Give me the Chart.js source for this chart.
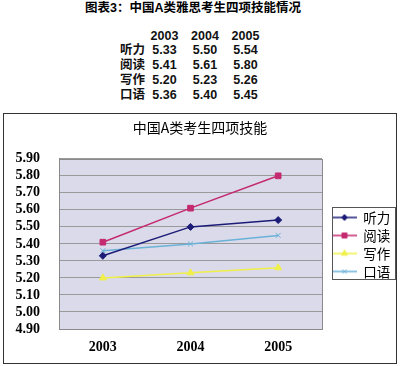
<!DOCTYPE html>
<html>
<head>
<meta charset="utf-8">
<script src="https://cdn.jsdelivr.net/npm/chart.js@4/dist/chart.umd.min.js"></script>
<style>
  body{margin:0;background:#fff;width:400px;height:366px;position:relative;overflow:hidden;}
  #title{position:absolute;left:0;top:1px;width:386px;text-align:center;font:bold 12.5px "Liberation Sans","Noto Sans CJK SC";color:#000;line-height:15px;}
  .cell{position:absolute;font:bold 12.5px "Liberation Sans","Noto Sans CJK SC";color:#111;line-height:15px;white-space:nowrap;}
  #box{position:absolute;left:3px;top:113px;width:392px;height:249px;border:1px solid #333;background:#fff;}
  #wrap{position:relative;width:392px;height:249px;}
</style>
</head>
<body>
<div id="title">图表3：中国A类雅思考生四项技能情况</div>
<div id="tbl"></div>
<div id="box"><div id="wrap"><canvas id="chart"></canvas></div></div>
<script>
// data
const years = ['2003','2004','2005'];
const skills = ['听力','阅读','写作','口语'];
const listening = [5.33,5.50,5.54];
const reading = [5.41,5.61,5.80];
const writing = [5.20,5.23,5.26];
const speaking = [5.36,5.40,5.45];
const yMin = 4.9, yMax = 5.9, yStep = 0.1;

const series = [listening, reading, writing, speaking];
const colors = ['#1c1c78','#c42a70','#f0f04a','#6ab2d8'];
const markers = ['rectRot','rect','triangle','crossRot'];
const radii = [3.5,4,4,3.5];

// table above the chart
const tbl = document.getElementById('tbl');
function cell(text, left, top, width, align){
  const d = document.createElement('div');
  d.className = 'cell';
  d.textContent = text;
  d.style.left = left+'px';
  d.style.top = top+'px';
  if(width){ d.style.width = width+'px'; d.style.textAlign = align; }
  tbl.appendChild(d);
}
years.forEach((y,c)=>cell(y, 144.5 + c*40.5, 28.5, 40, 'center'));
skills.forEach((s,r)=>{
  const top = 28.5 + (r+1)*14.75;
  cell(s, 120, top);
  series[r].forEach((v,c)=>cell(v.toFixed(2), 144.5 + c*40.5, top, 40, 'center'));
});

// legend icon: short line with the marker in the middle
function legendIcon(i){
  const cv = document.createElement('canvas');
  cv.width = 30; cv.height = 12;
  const g = cv.getContext('2d');
  g.strokeStyle = colors[i]; g.fillStyle = colors[i]; g.lineWidth = 1.5;
  g.beginPath(); g.moveTo(6,6); g.lineTo(30,6); g.stroke();
  g.lineWidth = 1;
  Chart.helpers.drawPoint(g, {pointStyle: markers[i], radius: radii[i] - 0.5, rotation: 0, borderWidth: 1}, 18, 6);
  return cv;
}

const plotBg = {
  id: 'plotBg',
  beforeDraw(chart){
    const {ctx, chartArea:a} = chart;
    ctx.save();
    ctx.fillStyle = '#dadaea';
    ctx.fillRect(a.left, a.top, a.right-a.left, a.bottom-a.top);
    ctx.restore();
  },
  afterDraw(chart){
    const {ctx, chartArea:a, legend} = chart;
    ctx.save();
    ctx.strokeStyle = '#8a8a8a'; ctx.lineWidth = 1;
    ctx.strokeRect(Math.round(a.left)+0.5, Math.round(a.top)+0.5, Math.round(a.right-a.left), Math.round(a.bottom-a.top));
    const hb = legend.legendHitBoxes;
    if(hb && hb.length){
      const top = hb[0].top - 4, bottom = hb[hb.length-1].top + hb[hb.length-1].height;
      const left = Math.round(a.right + 10);
      ctx.strokeStyle = '#555';
      ctx.strokeRect(left+0.5, Math.round(top)+0.5, chart.width - 1 - left, Math.round(bottom-top));
    }
    ctx.restore();
  }
};

new Chart(document.getElementById('chart'), {
  type: 'line',
  data: {
    labels: years,
    datasets: skills.map((s,i)=>({
      label: s,
      data: series[i],
      borderColor: colors[i],
      backgroundColor: colors[i],
      borderWidth: 1.5,
      pointStyle: markers[i],
      pointRadius: radii[i],
      pointBorderWidth: 1,
      tension: 0,
      fill: false
    }))
  },
  options: {
    responsive: true,
    maintainAspectRatio: false,
    animation: false,
    layout: {padding: {left: 0, right: 0, top: 0, bottom: 0}},
    plugins: {
      title: {
        display: true,
        text: '中国A类考生四项技能',
        color: '#000',
        font: {family: '"Noto Sans CJK SC"', size: 14, weight: 'normal'},
        padding: {top: 5, bottom: 23}
      },
      legend: {
        position: 'right',
        maxWidth: 74,
        // empty title only nudges the items down a little
        title: {display: true, text: '', padding: 0, font: {size: 10}},
        labels: {
          usePointStyle: true,
          pointStyleWidth: 30,
          padding: 4.5,
          color: '#000',
          font: {family: '"Noto Sans CJK SC"', size: 13.5},
          generateLabels(chart){
            return chart.data.datasets.map((d,i)=>({
              text: d.label, fontColor: '#000', pointStyle: legendIcon(i),
              fillStyle: colors[i], strokeStyle: colors[i], lineWidth: 0, datasetIndex: i, hidden: false
            }));
          }
        }
      },
      tooltip: {enabled: false}
    },
    scales: {
      x: {
        offset: true,
        afterFit(scale){ scale.height = 34; },
        grid: {display: false, drawTicks: false},
        border: {display: true, color: '#7a7a7a'},
        ticks: {color: '#000', padding: 10, font: {family: '"Liberation Serif"', size: 14, weight: 'bold'}}
      },
      y: {
        min: yMin, max: yMax,
        afterFit(scale){ scale.width = 55; },
        grid: {color: '#9a9a9a', drawTicks: false},
        border: {display: true, color: '#8a8a8a'},
        ticks: {
          stepSize: yStep, padding: 19, color: '#000', autoSkip: false,
          font: {family: '"Liberation Serif"', size: 14, weight: 'bold'},
          callback: v => Number(v).toFixed(2)
        }
      }
    }
  },
  plugins: [plotBg]
});
</script>
</body>
</html>
